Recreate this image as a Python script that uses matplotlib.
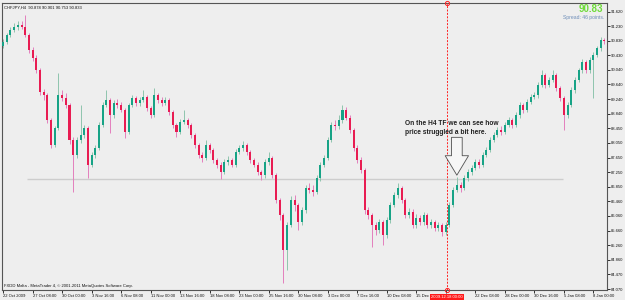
import matplotlib
matplotlib.use('Agg')
import matplotlib.pyplot as plt

# CHFJPY H4 bars (one bar here = two H4 bars)
symbol_title = 'CHFJPY,H4  90.878 90.901 90.753 90.833'
first_open = 90.70
closes = [
    90.80, 90.99, 91.12, 91.20, 91.26, 91.20, 90.99, 90.58, 90.36, 90.03,
    89.43, 89.35, 88.67, 87.99, 88.45, 89.35, 89.27, 89.08, 88.13, 87.72,
    88.13, 88.26, 88.45, 87.45, 87.72, 87.91, 88.54, 89.08, 89.22, 88.81,
    89.14, 89.08, 88.95, 88.35, 89.08, 89.27, 89.14, 89.22, 89.30, 89.00,
    88.81, 89.35, 89.22, 89.14, 89.22, 88.89, 88.54, 88.35, 88.62, 88.67,
    88.54, 88.26, 87.99, 87.72, 87.64, 87.99, 87.86, 87.58, 87.45, 87.26,
    87.53, 87.58, 87.45, 87.80, 87.91, 87.99, 87.80, 87.58, 87.45, 87.26,
    87.17, 87.53, 87.64, 87.17, 86.49, 86.09, 85.13, 85.81, 86.49, 86.36,
    85.89, 86.22, 86.82, 86.77, 86.71, 87.09, 87.45, 87.64, 88.13, 88.54,
    88.50, 88.67, 88.95, 88.73, 88.40, 87.91, 87.58, 87.31, 86.22, 86.09,
    85.81, 85.68, 85.89, 85.54, 85.95, 86.36, 86.63, 86.82, 86.49, 86.09,
    86.17, 85.81, 86.00, 85.89, 86.09, 85.81, 85.89, 85.73, 85.81, 85.62,
    85.81, 86.36, 86.77, 86.90, 86.82, 87.09, 87.26, 87.37, 87.53, 87.45,
    87.72, 87.86, 88.13, 88.26, 88.40, 88.35, 88.54, 88.67, 88.54, 88.81,
    89.08, 88.95, 89.16, 89.30, 89.35, 89.63, 89.90, 89.63, 89.76, 89.90,
    89.54, 89.27, 88.81, 89.08, 89.49, 89.76, 90.03, 90.25, 90.03, 90.31,
    90.44, 90.63, 90.85, 90.83,
]
highs = [
    90.88, 91.05, 91.20, 91.30, 91.36, 91.38, 91.53, 91.05, 90.66, 90.44,
    90.08, 89.52, 89.40, 88.72, 88.52, 89.95, 89.49, 89.40, 89.14, 88.20,
    88.22, 89.08, 88.54, 88.50, 87.80, 88.00, 88.62, 89.16, 89.49, 89.28,
    89.22, 89.24, 89.16, 89.00, 89.14, 89.35, 89.33, 89.30, 89.49, 89.36,
    89.06, 89.54, 89.42, 89.30, 89.30, 89.28, 88.95, 88.60, 88.70, 88.95,
    88.74, 88.60, 88.32, 88.05, 87.80, 88.13, 88.05, 87.92, 87.64, 87.52,
    87.60, 87.68, 87.64, 87.88, 87.99, 88.10, 88.05, 87.86, 87.64, 87.52,
    87.32, 87.60, 87.80, 87.70, 87.22, 86.56, 86.15, 85.90, 86.60, 86.63,
    86.42, 86.30, 86.90, 86.96, 86.90, 87.17, 87.53, 87.72, 88.20, 88.62,
    88.67, 88.80, 89.08, 89.02, 88.80, 88.46, 87.98, 87.66, 87.36, 86.30,
    86.15, 85.89, 85.97, 85.95, 86.03, 86.44, 86.72, 86.96, 86.88, 86.55,
    86.28, 86.24, 86.10, 86.08, 86.18, 86.15, 85.98, 85.96, 85.90, 85.88,
    85.90, 86.44, 86.85, 87.12, 86.98, 87.17, 87.34, 87.46, 87.62, 87.60,
    87.80, 87.94, 88.20, 88.34, 88.48, 88.50, 88.62, 88.76, 88.74, 88.90,
    89.16, 89.14, 89.24, 89.38, 89.44, 89.72, 90.03, 89.96, 89.84, 90.03,
    89.96, 89.60, 89.32, 89.16, 89.56, 89.84, 90.10, 90.33, 90.30, 90.40,
    90.52, 90.70, 90.92, 90.90,
]
lows = [
    90.62, 90.75, 90.94, 91.06, 91.12, 91.14, 90.92, 90.50, 90.28, 89.95,
    89.36, 89.22, 88.58, 87.91, 87.94, 88.40, 89.18, 89.00, 88.02, 86.72,
    87.65, 88.05, 88.18, 87.09, 87.38, 87.64, 87.86, 88.48, 89.02, 88.32,
    88.74, 89.00, 88.88, 88.18, 88.30, 89.02, 89.05, 89.06, 89.15, 88.92,
    88.72, 88.76, 89.14, 89.06, 89.08, 88.82, 88.46, 88.21, 88.30, 88.56,
    88.46, 88.18, 87.92, 87.64, 87.53, 87.58, 87.78, 87.50, 87.36, 87.07,
    87.20, 87.46, 87.38, 87.40, 87.74, 87.84, 87.72, 87.50, 87.38, 87.18,
    87.04, 87.10, 87.46, 87.10, 86.40, 85.95, 84.23, 84.60, 85.75, 86.20,
    85.68, 85.82, 86.15, 86.68, 86.60, 86.65, 87.02, 87.38, 87.58, 88.06,
    88.40, 88.42, 88.60, 88.66, 88.32, 87.84, 87.50, 87.22, 86.12, 85.98,
    85.21, 85.55, 85.60, 85.27, 85.46, 85.88, 86.30, 86.55, 86.40, 86.00,
    86.00, 85.72, 85.74, 85.80, 85.82, 85.72, 85.74, 85.64, 85.66, 85.51,
    85.55, 85.75, 86.30, 86.70, 86.72, 86.76, 87.02, 87.18, 87.30, 87.36,
    87.40, 87.66, 87.80, 88.06, 88.20, 88.26, 88.28, 88.48, 88.46, 88.48,
    88.74, 88.86, 88.88, 89.10, 89.24, 89.28, 89.56, 89.55, 89.56, 89.70,
    89.46, 89.18, 88.40, 88.74, 89.02, 89.42, 89.70, 89.96, 89.95, 89.96,
    89.27, 90.38, 90.56, 90.75,
]
opens = [first_open] + closes[:-1]

time_ticks = list(range(0, 161, 8))
# the 17 Dec 16:00 label sits under the red crosshair box in the screenshot
time_labels = [
    '22 Oct 2009', '27 Oct 08:00', '30 Oct 00:00', '3 Nov 16:00', '6 Nov 08:00',
    '11 Nov 00:00', '13 Nov 16:00', '18 Nov 08:00', '23 Nov 00:00', '25 Nov 16:00',
    '30 Nov 08:00', '3 Dec 00:00', '7 Dec 16:00', '10 Dec 08:00', '15 Dec 00:00',
    '', '22 Dec 08:00', '28 Dec 00:00', '30 Dec 16:00', '5 Jan 08:00',
    '8 Jan 00:00',
]
price_ticks = [84.07, 84.47, 84.86, 85.26, 85.66, 86.06, 86.46, 86.85, 87.25, 87.65,
               88.05, 88.45, 88.84, 89.24, 89.64, 90.04, 90.43, 90.83, 91.23, 91.62]

level_price = 87.07          # grey horizontal line
level_span = (6.5, 151.7)
marker_bar = 120.3           # red crosshair
marker_label = '2009.12.18 00:00'
bid_text = '90.83'
spread_text = 'Spread: 46 points.'
note_text = 'On the H4 TF we can see how\nprice struggled a bit here.'
arrow_bar = 123
arrow_from, arrow_to = 88.20, 87.17

bg = '#eeeeee'
plt.rcParams['font.family'] = ['Liberation Sans', 'DejaVu Sans']

fig = plt.figure(figsize=(6.25, 3.0), dpi=100, facecolor=bg)
ax = fig.add_axes([2 / 625, 10 / 300, 605 / 625, 287 / 300])
ax.set_facecolor(bg)
ax.set_xlim(-0.3, 163.7)
ax.set_ylim(84.043, 91.858)

ax.hlines(level_price, level_span[0], level_span[1], color='#cdcdcd', lw=1.0, zorder=1)

# candles
for i, (o, h, l, c) in enumerate(zip(opens, highs, lows, closes)):
    up = c >= o
    wick = '#8fc4ad' if up else '#e37fbd'
    body = '#17a386' if up else '#e81c52'
    ax.vlines(i, l, h, color=wick, lw=0.7, zorder=2)
    ax.bar(i, abs(c - o), bottom=min(o, c), width=0.55, color=body,
           lw=0, zorder=3)

# crosshair
ax.axvline(marker_bar, color='#ff2020', lw=0.7, ls=(0, (2, 1.5)), zorder=4)
xt = ax.get_xaxis_transform()
ax.plot([marker_bar, marker_bar], [1, 0], 'o', transform=xt, mfc='none',
        mec='#ff2020', ms=3, mew=0.7, clip_on=False, zorder=5)
ax.text(marker_bar, -0.018, marker_label, transform=xt, ha='center', va='top',
        fontsize=3, color='white', zorder=10, clip_on=False,
        bbox=dict(boxstyle='square,pad=0.35', fc='#ff1a1a', ec='none'))

# arrow + note
ax.annotate('', xy=(arrow_bar, arrow_to), xytext=(arrow_bar, arrow_from),
            arrowprops=dict(arrowstyle='simple,head_length=1.0,head_width=1.2,tail_width=0.55',
                            fc='#f6f6f6', ec='#505050', lw=0.6, mutation_scale=14,
                            shrinkA=0, shrinkB=0), zorder=6)
fig.text(405 / 625, 1 - 120 / 300, note_text, va='top', ha='left', fontsize=4.8,
         weight='bold', color='#222222', linespacing=1.35)

# corner texts
ax.text(0.003, 0.992, symbol_title, transform=ax.transAxes, va='top', ha='left',
        fontsize=3, color='#111111')
ax.text(0.003, 0.006, 'FXDD Malta - MetaTrader 4, \u00a9 2001-2011 MetaQuotes Software Corp.',
        transform=ax.transAxes, va='bottom', ha='left', fontsize=3, color='#111111')
fig.text(603 / 625, 1 - 9 / 300, bid_text, ha='right', va='center', fontsize=7,
         weight='bold', color='#6fdc3a')
fig.text(604 / 625, 1 - 17 / 300, spread_text, ha='right', va='center', fontsize=3.6,
         color='#6d8db8')

# axes
for s in ax.spines.values():
    s.set_color('#555555')
    s.set_linewidth(0.8)
ax.yaxis.tick_right()
ax.set_yticks(price_ticks)
ax.set_yticklabels([f'{v:.3f}' for v in price_ticks])
ax.tick_params(axis='y', length=2, pad=1, labelsize=3, colors='#111111', width=0.6)
ax.set_xticks(time_ticks)
ax.set_xticklabels(time_labels, ha='left')
ax.tick_params(axis='x', length=2, pad=1, labelsize=3, colors='#111111', width=0.6)

fig.savefig('out.png', dpi=100, facecolor=bg)
